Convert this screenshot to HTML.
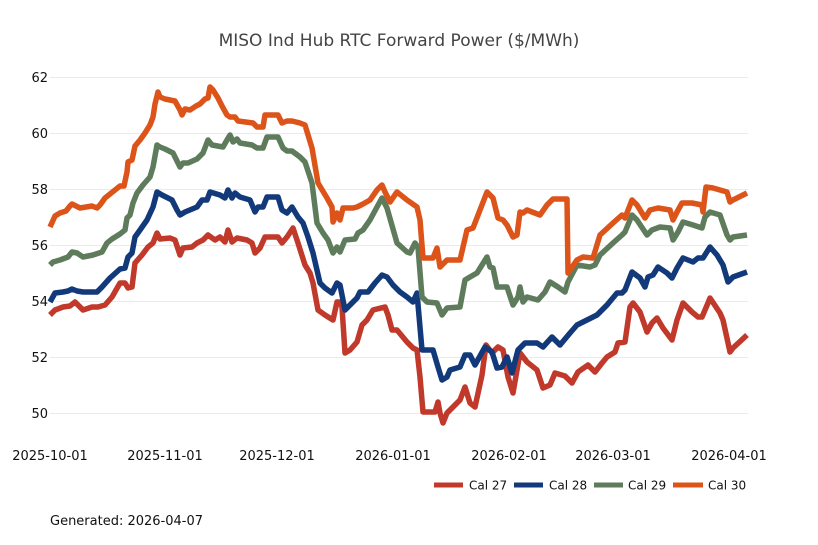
<!DOCTYPE html>
<html><head><meta charset="utf-8">
<style>
html,body{margin:0;padding:0;background:#fff;}
svg{display:block;}
text{font-family:"DejaVu Sans","Liberation Sans",sans-serif;}
</style></head>
<body>
<svg width="818" height="545" viewBox="0 0 818 545" xmlns="http://www.w3.org/2000/svg">
<rect width="818" height="545" fill="#fff"/>
<text x="399" y="46" text-anchor="middle" font-size="17" fill="#444">MISO Ind Hub RTC Forward Power ($/MWh)</text>
<g stroke="#ebebeb" stroke-width="1">
<line x1="50" x2="748" y1="77.5" y2="77.5"/>
<line x1="50" x2="748" y1="133.5" y2="133.5"/>
<line x1="50" x2="748" y1="189.5" y2="189.5"/>
<line x1="50" x2="748" y1="245.5" y2="245.5"/>
<line x1="50" x2="748" y1="301.5" y2="301.5"/>
<line x1="50" x2="748" y1="357.5" y2="357.5"/>
<line x1="50" x2="748" y1="413.5" y2="413.5"/>
</g>
<g font-size="13" fill="#111" text-anchor="end">
<text x="48" y="82">62</text>
<text x="48" y="138">60</text>
<text x="48" y="194">58</text>
<text x="48" y="250">56</text>
<text x="48" y="306">54</text>
<text x="48" y="362">52</text>
<text x="48" y="418">50</text>
</g>
<g font-size="13" fill="#111" text-anchor="middle">
<text x="50" y="460">2025-10-01</text>
<text x="165" y="460">2025-11-01</text>
<text x="277" y="460">2025-12-01</text>
<text x="393" y="460">2026-01-01</text>
<text x="509" y="460">2026-02-01</text>
<text x="613" y="460">2026-03-01</text>
<text x="729" y="460">2026-04-01</text>
</g>
<g fill="none" stroke-width="5.5" stroke-linejoin="round" stroke-linecap="butt">
<polyline stroke="#c0392b" points="50,315 55,310 63,307 70,306 75,302 78,305 83,310 92,307 98,307 105,305 112,297 120,283 125,283 128,288 132,287 135,263 142,255 148,247 153,243 157,233 160,239 170,238 175,240 180,255 183,248 192,247 197,243 203,240 208,235 215,240 220,237 225,242 228,230 232,242 237,238 247,240 252,243 255,253 260,248 265,237 278,237 282,243 287,237 293,228 298,243 305,265 310,273 313,283 318,310 325,315 333,320 337,302 340,302 342,307 345,353 350,350 357,342 362,325 367,320 373,310 385,307 388,315 392,330 397,330 407,342 413,348 417,350 420,377 423,412 435,412 438,402 440,413 443,423 447,413 460,400 465,387 470,403 475,407 482,375 486,345 492,353 498,347 503,350 508,377 513,393 520,353 527,362 537,370 543,388 550,385 555,373 565,376 572,383 578,372 588,365 595,372 602,363 607,357 615,352 618,343 625,342 630,307 633,303 640,312 647,332 652,323 657,318 663,328 672,340 677,320 683,303 692,312 698,317 702,317 708,303 710,298 720,313 723,320 730,352 733,348 747,335"/>
<polyline stroke="#12397a" points="50,302 55,293 63,292 68,291 72,289 77,291 83,292 97,292 102,287 110,278 120,269 125,268 128,257 132,253 135,237 140,230 147,220 153,207 157,192 162,195 172,200 177,210 180,215 185,212 197,207 202,200 207,200 210,192 220,195 225,198 228,190 232,198 235,193 240,197 250,200 255,212 258,207 263,207 267,197 278,197 282,210 287,213 292,207 298,217 303,223 308,237 313,253 320,283 325,288 332,293 337,283 340,285 345,310 350,305 357,298 360,292 368,292 375,283 382,275 387,277 393,285 400,292 407,297 413,302 417,293 422,350 433,350 438,367 442,380 447,377 450,370 460,367 465,355 470,355 475,365 485,347 492,352 497,368 502,367 507,357 512,373 518,350 525,343 537,343 543,347 552,337 560,345 570,333 577,325 587,320 597,315 607,305 617,293 622,293 625,290 632,272 640,278 645,287 648,277 653,275 658,267 667,273 672,278 677,268 683,258 693,262 698,258 703,258 710,247 717,255 723,265 728,282 733,277 747,272"/>
<polyline stroke="#5e7b5b" points="50,265 53,262 60,260 68,257 72,252 77,253 83,257 93,255 102,252 107,243 112,239 120,234 125,230 127,218 130,215 133,203 137,193 143,185 150,177 153,167 157,145 160,147 165,149 173,153 180,167 183,163 188,163 197,159 203,153 208,140 212,145 223,147 227,140 230,135 233,142 237,139 240,143 252,145 257,148 263,148 267,137 278,137 283,148 287,151 292,151 300,157 305,162 312,183 317,223 323,233 328,240 333,253 337,247 340,252 345,240 355,239 358,233 363,230 370,220 377,207 382,198 387,208 397,243 407,252 410,253 415,243 418,247 422,297 427,302 437,303 442,315 447,308 460,307 465,280 470,277 477,273 487,257 490,267 493,268 497,287 503,287 507,287 513,305 518,297 520,287 523,302 527,297 538,300 545,292 550,282 558,287 565,292 568,282 577,265 590,267 595,265 600,255 613,243 622,235 625,232 632,215 637,220 647,235 652,230 660,227 670,228 673,240 678,232 683,222 693,225 702,228 705,217 710,212 720,215 727,235 730,240 733,237 747,235"/>
<polyline stroke="#dc5419" points="50,227 55,216 60,213 66,211 70,206 72,204 76,206 80,208 86,207 92,206 97,208 100,205 105,198 110,194 115,190 120,186 124,186 127,172 128,162 132,160 135,146 140,140 145,133 150,125 153,117 155,104 158,92 160,97 165,99 170,100 175,101 180,110 182,115 185,109 190,110 196,106 200,104 205,99 208,98 210,87 213,90 218,98 222,106 227,115 230,117 235,117 238,121 253,123 257,127 263,127 265,115 278,115 282,123 287,121 292,121 300,123 305,125 312,148 318,183 327,198 332,207 333,222 337,213 340,220 343,208 353,208 357,207 363,204 370,200 377,190 382,185 385,192 390,202 397,192 407,200 417,207 420,220 423,258 433,258 437,248 440,267 447,260 460,260 467,230 473,228 480,210 487,192 493,198 498,218 503,220 507,225 513,237 517,235 520,212 523,213 527,210 540,215 547,205 553,199 567,199 568,273 577,260 583,257 593,258 600,235 613,223 622,215 625,218 632,200 637,205 645,218 650,210 658,208 670,210 673,220 677,212 682,203 692,203 702,205 703,212 706,187 713,188 727,192 730,202 733,200 747,193"/>
</g>
<g stroke-width="5">
<line x1="434" x2="463" y1="485" y2="485" stroke="#c0392b"/>
<line x1="514" x2="543" y1="485" y2="485" stroke="#12397a"/>
<line x1="594" x2="623" y1="485" y2="485" stroke="#5e7b5b"/>
<line x1="673" x2="703" y1="485" y2="485" stroke="#dc5419"/>
</g>
<g font-size="12" fill="#111">
<text x="469" y="489.5">Cal 27</text>
<text x="549" y="489.5">Cal 28</text>
<text x="628" y="489.5">Cal 29</text>
<text x="708" y="489.5">Cal 30</text>
</g>
<text x="50" y="525" font-size="13" fill="#111">Generated: 2026-04-07</text>
</svg>
</body></html>
